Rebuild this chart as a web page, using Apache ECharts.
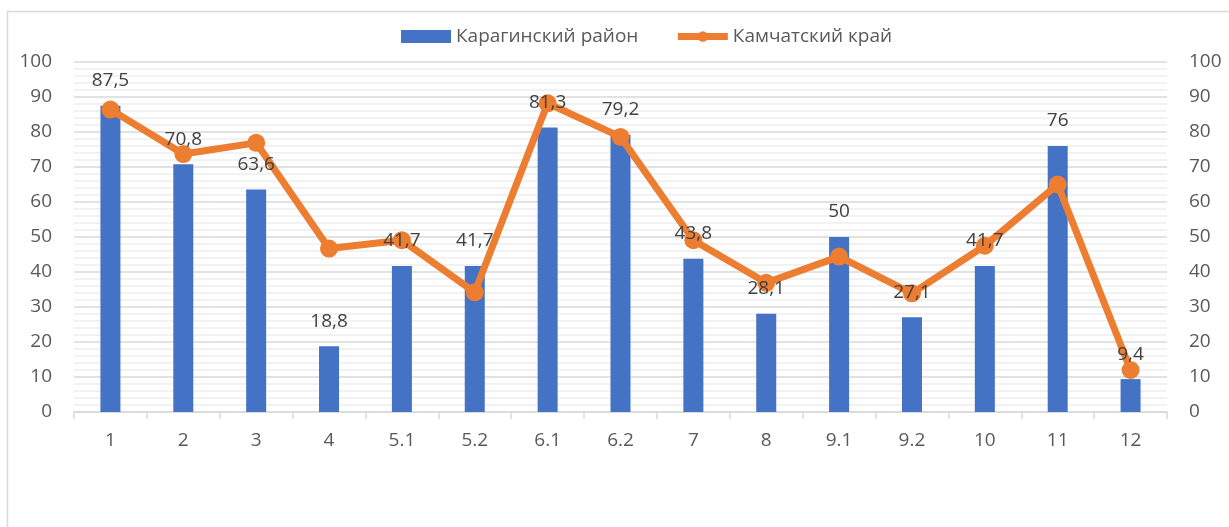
<!DOCTYPE html>
<html>
<head>
<meta charset="utf-8">
<script src="https://cdn.jsdelivr.net/npm/echarts@6/dist/echarts.min.js"></script>
<style>
  html, body { margin: 0; padding: 0; background: #fff; }
  #chart { width: 1229px; height: 527px; }
</style>
</head>
<body>
<div id="chart"></div>
<script>
const categories = ['1', '2', '3', '4', '5.1', '5.2', '6.1', '6.2', '7', '8', '9.1', '9.2', '10', '11', '12'];
const karaginsky = [87.5, 70.8, 63.6, 18.8, 41.7, 41.7, 81.3, 79.2, 43.8, 28.1, 50, 27.1, 41.7, 76, 9.4];
const kamchatka = [86.4, 73.7, 76.9, 46.7, 49.1, 34.2, 88.2, 78.6, 49.1, 36.9, 44.4, 33.9, 47.5, 65, 12];
const yTicks = [0, 100, 10];

const font = 'Open Sans, Noto Sans, sans-serif';
const chart = echarts.init(document.getElementById('chart'));

const valueAxis = (position, showGrid) => ({
  type: 'value',
  position: position,
  min: yTicks[0],
  max: yTicks[1],
  interval: yTicks[2],
  axisLine: { show: false },
  axisTick: { show: false },
  axisLabel: {
    color: '#595959',
    fontSize: 19,
    fontFamily: font,
    margin: 22
  },
  splitLine: { show: showGrid, lineStyle: { color: '#d9d9d9', width: 1.5 } },
  minorTick: { show: false, splitNumber: 5 },
  minorSplitLine: { show: showGrid, lineStyle: { color: '#eeeeee', width: 1.5 } }
});

chart.setOption({
  animation: false,
  color: ['#4472C4', '#ED7D31'],
  graphic: [{
    type: 'rect',
    shape: { x: 7.5, y: 11.5, width: 1400, height: 700 },
    style: { fill: 'none', stroke: '#d9d9d9', lineWidth: 1.5 },
    silent: true
  }],
  legend: {
    top: 22,
    left: 396,
    itemGap: 36,
    itemWidth: 50,
    itemHeight: 13,
    textStyle: { color: '#595959', fontSize: 19, fontFamily: font },
    data: [
      { name: 'Карагинский район', icon: 'rect' },
      { name: 'Камчатский край', lineStyle: { width: 7 } }
    ]
  },
  grid: {
    left: 74,
    right: 62,
    top: 62,
    bottom: 115
  },
  xAxis: {
    type: 'category',
    data: categories,
    boundaryGap: true,
    axisLine: { lineStyle: { color: '#d9d9d9', width: 1.5 } },
    axisTick: { show: true, length: 7, lineStyle: { color: '#d9d9d9', width: 1.5 } },
    axisLabel: { color: '#595959', fontSize: 19, fontFamily: font, margin: 19 }
  },
  yAxis: [valueAxis('left', true), valueAxis('right', false)],
  series: [
    {
      name: 'Карагинский район',
      type: 'bar',
      barWidth: 20,
      data: karaginsky
    },
    {
      name: 'Камчатский край',
      type: 'line',
      z: 3,
      data: kamchatka,
      symbol: 'circle',
      symbolSize: 18,
      lineStyle: { width: 7, color: '#ED7D31' },
      itemStyle: { color: '#ED7D31' }
    },
    {
      // bar value labels, drawn above the line like in the source chart
      name: 'labels',
      type: 'scatter',
      z: 10,
      silent: true,
      symbolSize: 1,
      itemStyle: { color: 'rgba(0,0,0,0)', opacity: 1 },
      data: karaginsky,
      label: {
        show: true,
        position: 'top',
        distance: 15,
        color: '#404040',
        fontSize: 19,
        fontFamily: font,
        formatter: (p) => String(p.value).replace('.', ',')
      }
    }
  ]
});
</script>
</body>
</html>
